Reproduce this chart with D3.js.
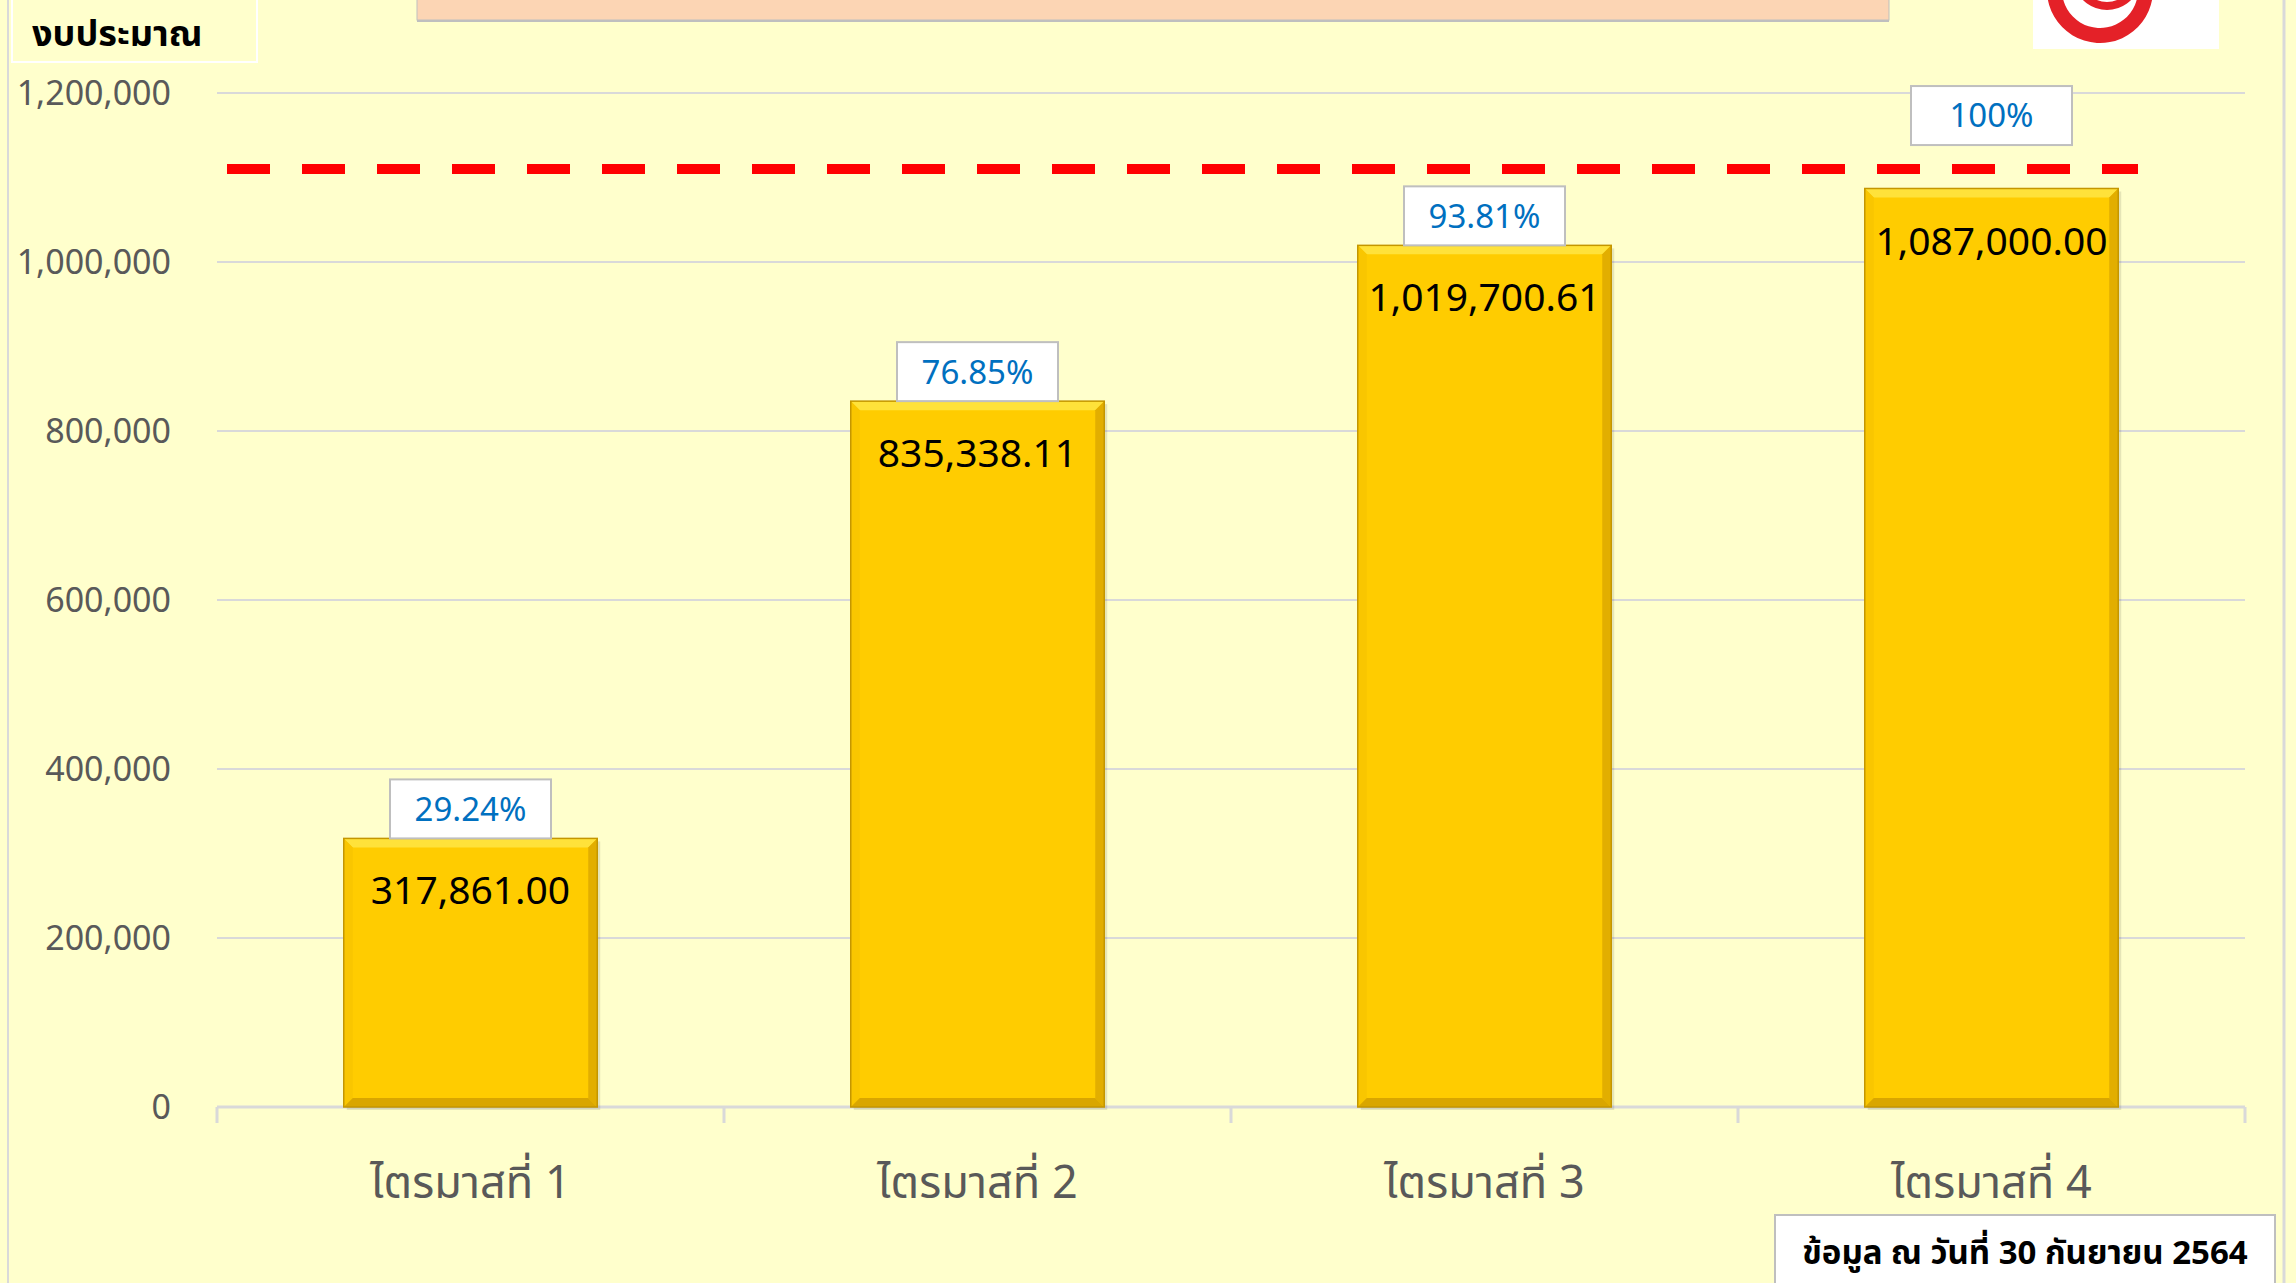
<!DOCTYPE html>
<html><head><meta charset="utf-8">
<script src="https://cdn.jsdelivr.net/npm/d3@7"></script>
<style>
html,body{margin:0;padding:0;background:#FFFFCC;}
svg{display:block;}
text{font-family:Tahoma,"Noto Sans Thai","Noto Sans","DejaVu Sans",sans-serif;}
</style></head>
<body>
<svg id="chart" width="2296" height="1283"></svg>
<script>
const categories = ["ไตรมาสที่ 1", "ไตรมาสที่ 2", "ไตรมาสที่ 3", "ไตรมาสที่ 4"];
const values = [317861.00, 835338.11, 1019700.61, 1087000.00];
const percentLabels = ["29.24%", "76.85%", "93.81%", "100%"];
const yTicks = [0, 200000, 400000, 600000, 800000, 1000000, 1200000];
const targetValue = 1110000;
const yAxisTitle = "งบประมาณ";
const noteText = "ข้อมูล ณ วันที่ 30 กันยายน 2564";

const svg = d3.select("#chart");
const W = 2296, H = 1283;
const plot = {left: 217, right: 2245, top: 93, bottom: 1107};

svg.append("rect").attr("width", W).attr("height", H).attr("fill", "#FFFFCC");
svg.append("line").attr("x1", 8).attr("x2", 8).attr("y1", 0).attr("y2", H).attr("stroke", "#D9D9D9").attr("stroke-width", 2);
svg.append("line").attr("x1", 2284).attr("x2", 2284).attr("y1", 0).attr("y2", H).attr("stroke", "#D9D9D9").attr("stroke-width", 3);

const x = d3.scaleBand().domain(categories).range([plot.left, plot.right]).paddingInner(0.5).paddingOuter(0.25);
const y = d3.scaleLinear().domain([0, 1200000]).range([plot.bottom, plot.top]);

svg.append("g").selectAll("line").data(yTicks.filter(d => d > 0)).join("line")
  .attr("x1", plot.left).attr("x2", plot.right)
  .attr("y1", d => y(d)).attr("y2", d => y(d))
  .attr("stroke", "#D9D9D9").attr("stroke-width", 2);

const fmt = d3.format(",");
svg.append("g").selectAll("text").data(yTicks).join("text")
  .attr("x", 171).attr("y", d => y(d)).attr("dy", "0.36em")
  .attr("text-anchor", "end").attr("font-size", 34).attr("fill", "#595959")
  .text(d => fmt(d));

const xAxis = d3.axisBottom(x).tickSize(0).tickFormat(d => d);
const gx = svg.append("g").attr("transform", `translate(0,${plot.bottom})`).call(xAxis);
gx.select(".domain").attr("stroke", "#D9D9D9").attr("stroke-width", 3).attr("d", `M${plot.left},0H${plot.right}`);
gx.selectAll(".tick text").attr("font-size", 45).attr("fill", "#595959").attr("dy", 0).attr("y", 91)
  .style("font-family", 'Tahoma,"Noto Sans Thai","Noto Sans","DejaVu Sans",sans-serif');
const bounds = d3.range(categories.length + 1).map(i => plot.left + i * (plot.right - plot.left) / categories.length);
gx.selectAll("line.bound").data(bounds).join("line").attr("class", "bound")
  .attr("x1", d => d).attr("x2", d => d).attr("y1", 0).attr("y2", 16)
  .attr("stroke", "#D9D9D9").attr("stroke-width", 3);

const bev = 9;
const bars = svg.append("g").selectAll("g").data(values).join("g");
bars.each(function(v, i) {
  const g = d3.select(this);
  const x0 = x(categories[i]), w = x.bandwidth(), y0 = y(v), h = y(0) - y(v);
  const x1 = x0 + w, y1 = y0 + h;
  g.append("rect").attr("x", x0 + 3).attr("y", y0 + 3).attr("width", w).attr("height", h)
    .attr("fill", "#000").attr("opacity", 0.10);
  g.append("rect").attr("x", x0).attr("y", y0).attr("width", w).attr("height", h).attr("fill", "#FFCC00");
  g.append("path").attr("d", `M${x0},${y0}L${x1},${y0}L${x1-bev},${y0+bev}L${x0+bev},${y0+bev}Z`).attr("fill", "#FFE23A");
  g.append("path").attr("d", `M${x0},${y0}L${x0+bev},${y0+bev}L${x0+bev},${y1-bev}L${x0},${y1}Z`).attr("fill", "#F9C600");
  g.append("path").attr("d", `M${x1},${y0}L${x1-bev},${y0+bev}L${x1-bev},${y1-bev}L${x1},${y1}Z`).attr("fill", "#E2AE00");
  g.append("path").attr("d", `M${x0},${y1}L${x0+bev},${y1-bev}L${x1-bev},${y1-bev}L${x1},${y1}Z`).attr("fill", "#D9A600");
  g.append("rect").attr("x", x0).attr("y", y0).attr("width", w).attr("height", h)
    .attr("fill", "none").attr("stroke", "#C49600").attr("stroke-width", 1.5);
});

svg.append("g").selectAll("text").data(values).join("text")
  .attr("x", (d, i) => x(categories[i]) + x.bandwidth() / 2)
  .attr("y", d => y(d) + 52).attr("dy", "0.36em")
  .attr("text-anchor", "middle").attr("font-size", 39).attr("fill", "#000")
  .text(d => d3.format(",.2f")(d));

const ty = y(targetValue);
svg.append("line")
  .attr("x1", 227).attr("x2", 2138)
  .attr("y1", ty).attr("y2", ty)
  .attr("stroke", "#FF0000").attr("stroke-width", 10).attr("stroke-dasharray", "43,32");

const bw = 161, bh = 59;
const pg = svg.append("g").selectAll("g").data(percentLabels).join("g");
pg.each(function(p, i) {
  const cx = x(categories[i]) + x.bandwidth() / 2;
  let bottom = y(values[i]);
  if (bottom - bh < ty + 8 && bottom > ty - 8) bottom = ty - 24;
  const g = d3.select(this);
  g.append("rect").attr("x", cx - bw / 2).attr("y", bottom - bh).attr("width", bw).attr("height", bh)
    .attr("fill", "#FFFFFF").attr("stroke", "#BFBFBF").attr("stroke-width", 2);
  g.append("text").attr("x", cx).attr("y", bottom - bh / 2).attr("dy", "0.36em")
    .attr("text-anchor", "middle").attr("font-size", 33).attr("fill", "#0070C0").text(p);
});

svg.append("rect").attr("x", 12).attr("y", -4).attr("width", 245).attr("height", 66)
  .attr("fill", "#FFFFCC").attr("stroke", "#FFFFFF").attr("stroke-width", 2);
svg.append("text").attr("x", 32).attr("y", 46).attr("font-size", 36).attr("font-weight", "bold")
  .attr("fill", "#000").text(yAxisTitle);

svg.append("rect").attr("x", 417).attr("y", -10).attr("width", 1472).attr("height", 32).attr("fill", "#BFBFBF");
svg.append("rect").attr("x", 417).attr("y", -10).attr("width", 1472).attr("height", 30)
  .attr("fill", "#FCD5B4").attr("stroke", "#BFBFBF").attr("stroke-width", 1);

svg.append("rect").attr("x", 2033).attr("y", 0).attr("width", 186).attr("height", 49).attr("fill", "#FFFFFF");
const clip = svg.append("clipPath").attr("id", "logoclip");
clip.append("rect").attr("x", 2033).attr("y", 0).attr("width", 186).attr("height", 49);
const logo = svg.append("g").attr("clip-path", "url(#logoclip)");
logo.append("path").attr("transform", "translate(2100,-10)")
  .attr("d", d3.arc()({innerRadius: 38, outerRadius: 53, startAngle: Math.PI * 0.55, endAngle: Math.PI * 1.8}))
  .attr("fill", "#E42128");
logo.append("path").attr("transform", "translate(2107,-24)")
  .attr("d", d3.arc()({innerRadius: 26, outerRadius: 34, startAngle: Math.PI * 0.6, endAngle: Math.PI * 1.4}))
  .attr("fill", "#E42128");

svg.append("rect").attr("x", 1775).attr("y", 1215).attr("width", 500).attr("height", 80)
  .attr("fill", "#FFFFFF").attr("stroke", "#BFBFBF").attr("stroke-width", 2);
svg.append("text").attr("x", 2025).attr("y", 1264).attr("text-anchor", "middle")
  .attr("font-size", 33).attr("font-weight", "bold").attr("fill", "#000").text(noteText);
</script>
</body></html>
